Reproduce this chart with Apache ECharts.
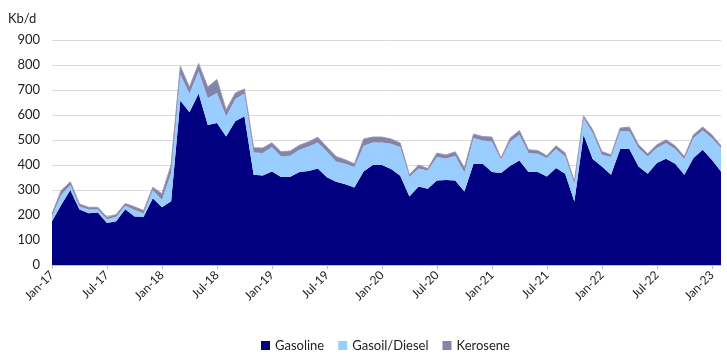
<!DOCTYPE html>
<html><head><meta charset="utf-8">
<script src="https://cdn.jsdelivr.net/npm/echarts@6/dist/echarts.min.js"></script>
<style>html,body{margin:0;padding:0;background:#fff}#c{width:727px;height:361px}</style>
</head><body><div id="c"></div>
<script>
const months = ['Jan','Feb','Mar','Apr','May','Jun','Jul','Aug','Sep','Oct','Nov','Dec'];
const categories = [];
for (let y = 17; y <= 23; y++) for (let m = 0; m < 12; m++) { if (y === 23 && m > 1) break; categories.push(months[m] + '-' + y); }
const gasoline = [175,240,300,222,207,210,168,175,223,194,193,267,231,255,658,611,686,560,568,514,575,595,
 361,358,374,352,353,372,376,386,351,333,323,310,374,400,400,384,357,274,314,305,338,340,338,294,405,405,
 372,368,397,418,372,372,354,388,365,254,521,424,394,361,464,464,394,365,408,425,405,361,428,461,421,374];
const diesel = [20,40,20,12,15,12,15,18,14,26,14,32,30,113,104,75,89,108,120,81,89,91,
 89,90,98,82,84,89,98,104,103,81,82,82,103,90,90,101,115,78,72,73,94,86,99,76,103,93,
 122,53,97,103,76,73,74,76,69,71,67,104,47,71,71,71,74,69,60,63,59,63,80,77,87,94];
const kerosene = [10,18,13,10,9,9,8,9,9,13,11,12,24,33,33,26,31,44,54,26,24,18,
 19,20,17,19,19,18,19,21,18,20,16,13,27,22,22,19,16,9,14,8,16,14,16,19,16,16,
 18,7,14,17,13,13,9,13,14,9,9,13,13,9,13,17,13,11,13,13,13,10,13,14,13,9];
const seriesNames = ['Gasoline','Gasoil/Diesel','Kerosene'];
const colors = ['#000080','#99CCFF','#8484A8'];
const FONT = 'Lato, "Open Sans", sans-serif';
const chart = echarts.init(document.getElementById('c'));
const mk = (name, data, i) => ({
  name, type: 'line', stack: 'total', data, symbol: 'none',
  lineStyle: { width: i === 2 ? 1 : 0, color: i === 2 ? '#9a9ab8' : colors[i] },
  areaStyle: { color: colors[i], opacity: 1 },
  itemStyle: { color: colors[i] }
});
chart.setOption({
  animation: false,
  textStyle: { fontFamily: FONT },
  title: { text: 'Kb/d', left: 3, top: 7, textStyle: { fontSize: 13, fontWeight: 'normal', color: '#222', fontFamily: FONT } },
  grid: { left: 52, right: 6, top: 40, bottom: 96, containLabel: false },
  legend: {
    bottom: 4, left: 256, itemWidth: 9, itemHeight: 9, itemGap: 14, icon: 'rect',
    textStyle: { fontSize: 13, color: '#222', fontFamily: FONT },
    data: seriesNames
  },
  xAxis: {
    type: 'category', data: categories, boundaryGap: false,
    axisLine: { lineStyle: { color: '#bfbfbf' } },
    axisTick: { interval: 5, length: 4, lineStyle: { color: '#bfbfbf' } },
    axisLabel: { interval: 5, rotate: 45, fontSize: 12, color: '#222', margin: 8, fontFamily: FONT }
  },
  yAxis: {
    type: 'value', min: 0, max: 900, interval: 100,
    axisLine: { show: false }, axisTick: { show: false },
    splitLine: { lineStyle: { color: '#d9d9d9', width: 1 } },
    axisLabel: { fontSize: 13, color: '#222', margin: 12, fontFamily: FONT }
  },
  series: [mk(seriesNames[0], gasoline, 0), mk(seriesNames[1], diesel, 1), mk(seriesNames[2], kerosene, 2)]
});
</script></body></html>
